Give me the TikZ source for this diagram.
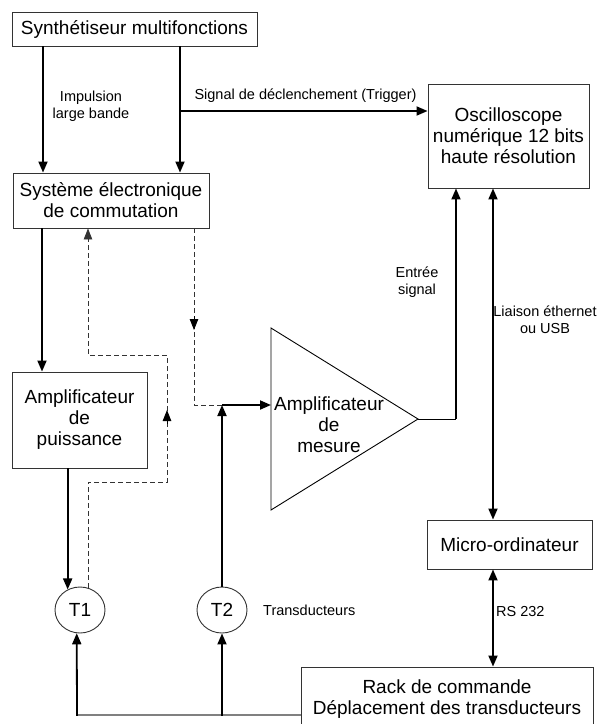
\documentclass[tikz,border=0pt]{standalone}
\usepackage{fontspec}
\setmainfont{Liberation Sans}
\usetikzlibrary{arrows.meta,shapes.geometric}
\definecolor{boxgray}{HTML}{333333}
\definecolor{dashgray}{HTML}{333333}
\definecolor{basegray}{HTML}{808080}
\begin{document}
\begin{tikzpicture}[x=1pt,y=-1pt,
  box/.style={draw=boxgray,line width=0.9pt,inner sep=0pt,align=center,font=\fontsize{19}{21}\selectfont},
  lbl/.style={inner sep=0pt,align=center,font=\fontsize{14.5}{17}\selectfont},
  tdx/.style={ellipse,draw=boxgray,line width=0.9pt,inner sep=0pt,minimum width=50pt,minimum height=46pt,font=\fontsize{19}{21}\selectfont},
  conn/.style={line width=1.8pt,-{Triangle[length=11pt,width=9pt]}},
  dconn/.style={line width=1.8pt,{Triangle[length=11pt,width=9pt]}-{Triangle[length=11pt,width=9pt]}},
  dashln/.style={draw=dashgray,line width=0.9pt,dash pattern=on 5pt off 3pt},
  midtip/.style={line width=0.9pt,-{Triangle[length=11pt,width=8.5pt]}},
  baseln/.style={draw=basegray,line width=1.5pt}
]
\useasboundingbox (0,0) rectangle (603,724);

% boxes
\node[box,minimum width=245pt,minimum height=34pt] (synth) at (134.5,29) {Synthétiseur multifonctions};
\node[box,minimum width=196pt,minimum height=55pt] (sys) at (111,200.5) {Système électronique\\de commutation};
\node[box,minimum width=161pt,minimum height=104pt] (osc) at (508.5,136) {Oscilloscope\\numérique 12 bits\\haute résolution};
\node[box,minimum width=135pt,minimum height=96pt] (amp) at (79.5,420) {Amplificateur\\de\\puissance};
\node[box,minimum width=165pt,minimum height=49pt] (micro) at (509.5,544.5) {Micro-ordinateur};
\node[box,minimum width=292pt,minimum height=64pt] (rack) at (447,699) {Rack de commande\\Déplacement des transducteurs};
\node[tdx] (T1) at (80,610) {T1};
\node[tdx] (T2) at (222,610) {T2};

% measurement amplifier (triangle)
\coordinate (ta) at (271,328);
\coordinate (tb) at (271,510);
\coordinate (tc) at (418,419);
\draw[draw=black,line width=0.9pt] (ta) -- (tb) -- (tc) -- cycle;
\node[box,draw=none] (mes) at (329,425) {Amplificateur\\de\\mesure};
\coordinate (amin) at (271,405);
\coordinate (junc) at (222,405);
\coordinate (outc) at (456,419);

% synth -> sys
\draw[conn] (synth.south -| 43,0) -- (sys.north -| 43,0);
\draw[conn] (synth.south -| 180,0) -- (sys.north -| 180,0);
\node[lbl] at (91,106.5) {Impulsion\\large bande};
% trigger
\draw[conn] (180,111) -- (osc.west |- 0,111);
\node[lbl] at (305.5,96) {Signal de déclenchement (Trigger)};

% sys -> amp -> T1
\draw[conn] (sys.south -| 42,0) -- (amp.north -| 42,0);
\draw[conn] (amp.south -| T1.121) -- (T1.121);

% dashed return from T1 to sys
\draw[dashln,-{Triangle[length=11pt,width=8.5pt]}] (T1.70) |- (167,482) |- (88,355) -- (sys.south -| 88,0);
\draw[midtip] (167,424) -- (167,410);

% dashed from sys to amp input
\draw[dashln] (sys.south -| 194,0) |- (junc);
\draw[midtip] (194,316) -- (194,330);

% T2 -> amp input
\draw[conn] (T2.north) -- (junc);
\draw[conn] (junc) -- (amin);

% amp output -> osc
\draw[draw=black,line width=0.9pt] (tc) -- (outc);
\draw[conn] (outc) -- (osc.south -| outc);
\node[lbl] at (417,282.5) {Entrée\\signal};

% osc <-> micro
\draw[dconn] (osc.south -| 493,0) -- (micro.north -| 493,0);
\node[lbl] at (545,320) {Liaison éthernet\\ou USB};

% micro <-> rack
\draw[dconn] (micro.south -| 493,0) -- (rack.north -| 493,0);
\node[lbl,anchor=west] at (496,612) {RS 232};

\node[lbl,anchor=west] at (263,610) {Transducteurs};

% rack -> transducers
\draw[baseln] (rack.west |- 0,715) -- (77,715);
\draw[conn] (77,715.75) -- (T1.262);
\draw[conn] (222,715.75) -- (T2.south);
\end{tikzpicture}
\end{document}
